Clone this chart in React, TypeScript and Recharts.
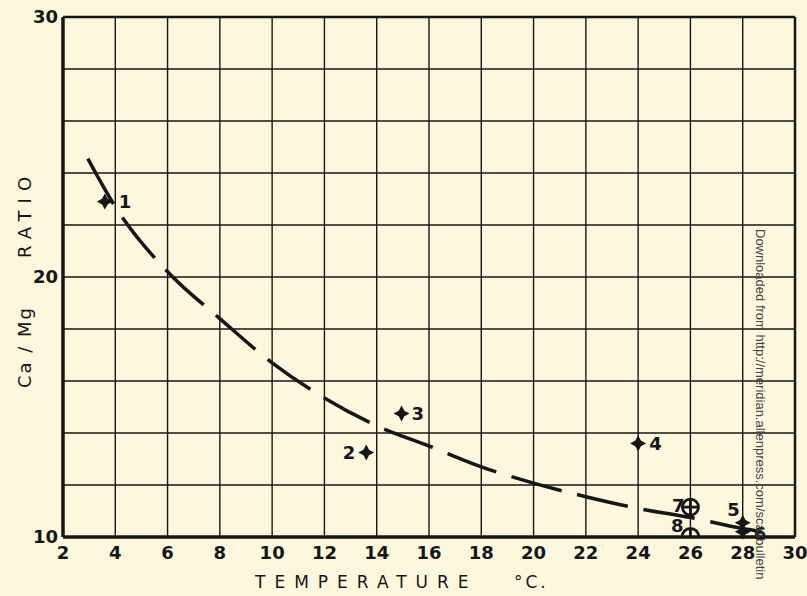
import { ComposedChart, Line, Scatter, XAxis, YAxis, CartesianGrid, ReferenceLine } from "recharts";

// x axis (temperature, deg C) and y axis (Ca/Mg ratio) ticks
const xTicks = [2, 4, 6, 8, 10, 12, 14, 16, 18, 20, 22, 24, 26, 28, 30];
const yTicks = [10, 12, 14, 16, 18, 20, 22, 24, 26, 28, 30];
const yLabeled = [10, 20, 30];

// observed stations
const stationIds = ["1", "2", "3", "4", "5", "6", "7", "8"];
const stationTemp = [3.6, 13.6, 14.95, 24, 28, 28, 26, 26];
const stationRatio = [22.9, 13.25, 14.75, 13.6, 10.55, 10.2, 11.15, 10.0];
const stationMarker = ["star", "star", "star", "star", "star", "star", "circle", "half"];

// fitted dashed curve
const curveTemp = [2.95, 4, 6, 8, 10, 12, 14, 16, 18, 20, 22, 24, 26, 28, 28.8];
const curveRatio = [24.55, 22.7, 20.2, 18.4, 16.7, 15.35, 14.28, 13.5, 12.7, 12.07, 11.55, 11.1, 10.75, 10.33, 10.2];

const stations = stationIds.map((id, i) => ({ id, x: stationTemp[i], y: stationRatio[i], marker: stationMarker[i] }));
const curve = curveTemp.map((x, i) => ({ x, y: curveRatio[i] }));

const INK = "#161616";
const FONT = "'DejaVu Sans', sans-serif";

// label offsets next to each marker
const labelPos: Record<string, [number, number, string]> = {
  "1": [14, 0, "start"],
  "2": [-11, 0, "end"],
  "3": [10, 0, "start"],
  "4": [11, 0, "start"],
  "5": [-3, -13, "end"],
  "6": [11, 2, "start"],
  "7": [-6, -2, "end"],
  "8": [-7, -12, "end"],
};

const StationMark = (props: any) => {
  const { cx, cy, payload } = props;
  const [dx, dy, anchor] = labelPos[payload.id];
  let mark;
  if (payload.marker === "star") {
    mark = (
      <path
        d={`M${cx},${cy - 8} L${cx + 2.8},${cy - 2.8} L${cx + 8},${cy} L${cx + 2.8},${cy + 2.8} L${cx},${cy + 8} L${cx - 2.8},${cy + 2.8} L${cx - 8},${cy} L${cx - 2.8},${cy - 2.8} Z`}
        fill={INK}
      />
    );
  } else if (payload.marker === "circle") {
    mark = (
      <g stroke={INK} strokeWidth={2.8} fill="none">
        <circle cx={cx} cy={cy} r={8} />
        <line x1={cx - 8} y1={cy} x2={cx + 8} y2={cy} />
        <line x1={cx} y1={cy - 8} x2={cx} y2={cy + 8} />
      </g>
    );
  } else {
    mark = (
      <g stroke={INK} strokeWidth={2.8} fill="none">
        <path d={`M${cx - 8.5},${cy} A8.5,8.5 0 0 1 ${cx + 8.5},${cy}`} />
        <line x1={cx} y1={cy - 8.5} x2={cx} y2={cy} />
      </g>
    );
  }
  return (
    <g>
      {mark}
      <text
        x={cx + dx}
        y={cy + dy}
        textAnchor={anchor as any}
        dominantBaseline="central"
        fontFamily={FONT}
        fontWeight="bold"
        fontSize={18}
        fill={INK}
      >
        {payload.id}
      </text>
    </g>
  );
};

const rotatedLabel = (cy: number): React.CSSProperties => ({
  position: "absolute",
  left: 25,
  top: cy,
  transform: "translate(-50%, -50%) rotate(-90deg)",
  fontFamily: FONT,
  fontSize: 18,
  color: INK,
  whiteSpace: "pre",
  lineHeight: "20px",
});

export default function App() {
  return (
    <div style={{ position: "absolute", left: 0, top: 0, width: 807, height: 596, background: "#fcf7dd", overflow: "hidden" }}>
      <ComposedChart width={807} height={596} margin={{ top: 17, right: 12, bottom: 29, left: 23 }}>
        <CartesianGrid stroke={INK} strokeWidth={1.4} />
        <XAxis
          type="number"
          dataKey="x"
          domain={[2, 30]}
          ticks={xTicks}
          interval={0}
          height={30}
          tickSize={0}
          tickMargin={9}
          tickLine={false}
          axisLine={{ stroke: INK, strokeWidth: 3.5 }}
          tick={{ fill: INK, fontSize: 18, fontWeight: "bold", fontFamily: FONT }}
          allowDuplicatedCategory={false}
        />
        <YAxis
          type="number"
          dataKey="y"
          domain={[10, 30]}
          ticks={yTicks}
          interval={0}
          width={40}
          tickSize={0}
          tickMargin={5}
          tickLine={false}
          axisLine={{ stroke: INK, strokeWidth: 3.5 }}
          tick={{ fill: INK, fontSize: 18, fontWeight: "bold", fontFamily: FONT }}
          tickFormatter={(v: number) => (yLabeled.includes(v) ? String(v) : "")}
        />
        <ReferenceLine y={30} stroke={INK} strokeWidth={2.5} />
        <ReferenceLine x={30} stroke={INK} strokeWidth={2.5} />
        <Line
          data={curve}
          dataKey="y"
          type="monotone"
          stroke={INK}
          strokeWidth={3.5}
          strokeDasharray="52 16"
          dot={false}
          isAnimationActive={false}
        />
        <Scatter data={stations} dataKey="y" shape={StationMark} isAnimationActive={false} />
      </ComposedChart>
      <div
        style={{
          position: "absolute",
          left: 255,
          top: 572,
          fontFamily: FONT,
          fontSize: 17,
          letterSpacing: 9,
          color: INK,
          whiteSpace: "pre",
          lineHeight: "20px",
        }}
      >
        TEMPERATURE
      </div>
      <div
        style={{
          position: "absolute",
          left: 514,
          top: 572,
          fontFamily: FONT,
          fontSize: 17,
          letterSpacing: 3,
          color: INK,
          whiteSpace: "pre",
          lineHeight: "20px",
        }}
      >
        {"°C."}
      </div>
      <div style={rotatedLabel(347)}>
        <span style={{ letterSpacing: 2 }}>Ca / Mg</span>
      </div>
      <div style={rotatedLabel(214)}>
        <span style={{ letterSpacing: 7 }}>RATIO</span>
      </div>
      <div
        style={{
          position: "absolute",
          left: 751,
          top: 229,
          transformOrigin: "0 0",
          transform: "translate(17px, 0) rotate(90deg)",
          fontFamily: "'Liberation Sans', Arial, sans-serif",
          fontSize: 13,
          color: "#444",
          whiteSpace: "pre",
        }}
      >
        Downloaded from http://meridian.allenpress.com/scasbulletin
      </div>
    </div>
  );
}
